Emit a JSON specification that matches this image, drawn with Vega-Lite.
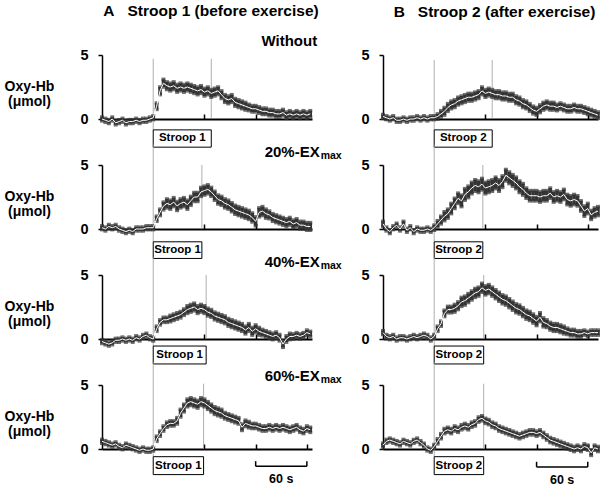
{
"$schema": "https://vega.github.io/schema/vega-lite/v6.json",
"background": "white",
"padding": {"left": 4, "top": 4, "right": 0, "bottom": 0},
"bounds": "flush",
"columns": 2,
"spacing": {"row": 46, "column": 71},
"datasets": {
"A1": [{"t":-60,"m":0.0,"e":0.15},{"t":-56,"m":-0.1,"e":0.15},{"t":-52,"m":-0.2,"e":0.15},{"t":-48,"m":0.0,"e":0.15},{"t":-44,"m":-0.3,"e":0.15},{"t":-40,"m":-0.2,"e":0.15},{"t":-36,"m":-0.1,"e":0.15},{"t":-32,"m":-0.3,"e":0.15},{"t":-28,"m":-0.2,"e":0.15},{"t":-24,"m":-0.2,"e":0.15},{"t":-20,"m":-0.1,"e":0.15},{"t":-16,"m":-0.2,"e":0.15},{"t":-12,"m":-0.1,"e":0.15},{"t":-8,"m":-0.1,"e":0.15},{"t":-4,"m":0.0,"e":0.15},{"t":0,"m":0.1,"e":0.15},{"t":4,"m":1.0,"e":0.25},{"t":8,"m":2.2,"e":0.3},{"t":12,"m":2.8,"e":0.3},{"t":16,"m":2.6,"e":0.3},{"t":20,"m":2.5,"e":0.3},{"t":24,"m":2.6,"e":0.3},{"t":28,"m":2.4,"e":0.3},{"t":32,"m":2.5,"e":0.3},{"t":36,"m":2.4,"e":0.3},{"t":40,"m":2.5,"e":0.3},{"t":44,"m":2.4,"e":0.3},{"t":48,"m":2.3,"e":0.3},{"t":52,"m":2.2,"e":0.3},{"t":56,"m":2.3,"e":0.3},{"t":60,"m":2.1,"e":0.3},{"t":64,"m":2.2,"e":0.3},{"t":68,"m":2.0,"e":0.3},{"t":72,"m":2.1,"e":0.3},{"t":76,"m":2.2,"e":0.3},{"t":80,"m":1.9,"e":0.3},{"t":84,"m":1.6,"e":0.3},{"t":88,"m":1.5,"e":0.3},{"t":92,"m":1.6,"e":0.3},{"t":96,"m":1.3,"e":0.3},{"t":100,"m":1.2,"e":0.3},{"t":104,"m":1.1,"e":0.3},{"t":108,"m":1.0,"e":0.3},{"t":112,"m":0.9,"e":0.25},{"t":116,"m":0.8,"e":0.25},{"t":120,"m":0.8,"e":0.25},{"t":124,"m":0.7,"e":0.25},{"t":128,"m":0.6,"e":0.25},{"t":132,"m":0.6,"e":0.25},{"t":136,"m":0.5,"e":0.25},{"t":140,"m":0.5,"e":0.25},{"t":144,"m":0.4,"e":0.25},{"t":148,"m":0.4,"e":0.25},{"t":152,"m":0.5,"e":0.25},{"t":156,"m":0.3,"e":0.25},{"t":160,"m":0.4,"e":0.25},{"t":164,"m":0.3,"e":0.25},{"t":168,"m":0.4,"e":0.25},{"t":172,"m":0.3,"e":0.25},{"t":176,"m":0.4,"e":0.25},{"t":180,"m":0.3,"e":0.25},{"t":184,"m":0.4,"e":0.25}],
"B1": [{"t":-60,"m":0.2,"e":0.15},{"t":-56,"m":0.1,"e":0.15},{"t":-52,"m":0.0,"e":0.15},{"t":-48,"m":0.1,"e":0.15},{"t":-44,"m":-0.1,"e":0.15},{"t":-40,"m":-0.1,"e":0.15},{"t":-36,"m":0.0,"e":0.15},{"t":-32,"m":-0.1,"e":0.15},{"t":-28,"m":0.0,"e":0.15},{"t":-24,"m":0.0,"e":0.15},{"t":-20,"m":0.1,"e":0.15},{"t":-16,"m":0.0,"e":0.15},{"t":-12,"m":0.1,"e":0.15},{"t":-8,"m":0.0,"e":0.15},{"t":-4,"m":0.1,"e":0.15},{"t":0,"m":0.1,"e":0.15},{"t":4,"m":0.2,"e":0.2},{"t":8,"m":0.4,"e":0.25},{"t":12,"m":0.6,"e":0.3},{"t":16,"m":0.9,"e":0.3},{"t":20,"m":1.1,"e":0.3},{"t":24,"m":1.2,"e":0.3},{"t":28,"m":1.4,"e":0.3},{"t":32,"m":1.5,"e":0.3},{"t":36,"m":1.6,"e":0.3},{"t":40,"m":1.7,"e":0.3},{"t":44,"m":1.7,"e":0.3},{"t":48,"m":1.8,"e":0.3},{"t":52,"m":1.9,"e":0.3},{"t":56,"m":2.2,"e":0.3},{"t":60,"m":2.0,"e":0.3},{"t":64,"m":2.1,"e":0.3},{"t":68,"m":2.0,"e":0.3},{"t":72,"m":1.9,"e":0.3},{"t":76,"m":1.9,"e":0.3},{"t":80,"m":1.8,"e":0.3},{"t":84,"m":1.8,"e":0.3},{"t":88,"m":1.7,"e":0.3},{"t":92,"m":1.7,"e":0.3},{"t":96,"m":1.5,"e":0.3},{"t":100,"m":1.4,"e":0.3},{"t":104,"m":1.2,"e":0.3},{"t":108,"m":1.1,"e":0.3},{"t":112,"m":0.9,"e":0.3},{"t":116,"m":0.7,"e":0.3},{"t":120,"m":0.6,"e":0.3},{"t":124,"m":0.8,"e":0.3},{"t":128,"m":1.0,"e":0.3},{"t":132,"m":1.1,"e":0.3},{"t":136,"m":1.0,"e":0.3},{"t":140,"m":1.0,"e":0.3},{"t":144,"m":0.9,"e":0.25},{"t":148,"m":1.0,"e":0.25},{"t":152,"m":0.9,"e":0.25},{"t":156,"m":0.8,"e":0.25},{"t":160,"m":0.8,"e":0.25},{"t":164,"m":0.9,"e":0.25},{"t":168,"m":0.8,"e":0.25},{"t":172,"m":0.8,"e":0.25},{"t":176,"m":0.7,"e":0.25},{"t":180,"m":0.6,"e":0.25},{"t":184,"m":0.5,"e":0.25},{"t":188,"m":0.4,"e":0.25},{"t":192,"m":0.3,"e":0.25}],
"A2": [{"t":-60,"m":0.1,"e":0.15},{"t":-56,"m":0.0,"e":0.15},{"t":-52,"m":0.2,"e":0.15},{"t":-48,"m":0.1,"e":0.15},{"t":-44,"m":0.2,"e":0.15},{"t":-40,"m":0.0,"e":0.15},{"t":-36,"m":-0.1,"e":0.15},{"t":-32,"m":-0.2,"e":0.15},{"t":-28,"m":-0.1,"e":0.15},{"t":-24,"m":-0.2,"e":0.15},{"t":-20,"m":0.0,"e":0.15},{"t":-16,"m":0.0,"e":0.15},{"t":-12,"m":0.0,"e":0.15},{"t":-8,"m":0.1,"e":0.15},{"t":-4,"m":0.1,"e":0.15},{"t":0,"m":0.1,"e":0.15},{"t":4,"m":0.8,"e":0.2},{"t":8,"m":1.3,"e":0.25},{"t":12,"m":1.8,"e":0.3},{"t":16,"m":2.0,"e":0.35},{"t":20,"m":1.9,"e":0.35},{"t":24,"m":2.1,"e":0.35},{"t":28,"m":1.8,"e":0.35},{"t":32,"m":2.0,"e":0.35},{"t":36,"m":2.1,"e":0.35},{"t":40,"m":1.9,"e":0.35},{"t":44,"m":2.2,"e":0.35},{"t":48,"m":2.5,"e":0.35},{"t":52,"m":2.5,"e":0.35},{"t":56,"m":2.9,"e":0.35},{"t":60,"m":3.0,"e":0.35},{"t":64,"m":3.1,"e":0.35},{"t":68,"m":2.9,"e":0.35},{"t":72,"m":2.6,"e":0.35},{"t":76,"m":2.3,"e":0.35},{"t":80,"m":2.2,"e":0.35},{"t":84,"m":2.0,"e":0.35},{"t":88,"m":1.9,"e":0.35},{"t":92,"m":1.7,"e":0.35},{"t":96,"m":1.5,"e":0.35},{"t":100,"m":1.4,"e":0.35},{"t":104,"m":1.3,"e":0.35},{"t":108,"m":1.2,"e":0.35},{"t":112,"m":1.1,"e":0.35},{"t":116,"m":0.9,"e":0.35},{"t":120,"m":0.6,"e":0.35},{"t":124,"m":1.3,"e":0.35},{"t":128,"m":1.4,"e":0.35},{"t":132,"m":1.2,"e":0.35},{"t":136,"m":1.1,"e":0.3},{"t":140,"m":0.9,"e":0.3},{"t":144,"m":0.8,"e":0.3},{"t":148,"m":0.7,"e":0.3},{"t":152,"m":0.6,"e":0.3},{"t":156,"m":0.5,"e":0.3},{"t":160,"m":0.6,"e":0.3},{"t":164,"m":0.4,"e":0.3},{"t":168,"m":0.5,"e":0.3},{"t":172,"m":0.3,"e":0.3},{"t":176,"m":0.3,"e":0.3},{"t":180,"m":0.2,"e":0.3},{"t":184,"m":0.2,"e":0.3}],
"B2": [{"t":-60,"m":0.4,"e":0.2},{"t":-56,"m":0.0,"e":0.15},{"t":-52,"m":-0.2,"e":0.15},{"t":-48,"m":0.1,"e":0.15},{"t":-44,"m":0.3,"e":0.15},{"t":-40,"m":0.0,"e":0.15},{"t":-36,"m":0.4,"e":0.2},{"t":-32,"m":-0.1,"e":0.15},{"t":-28,"m":0.1,"e":0.15},{"t":-24,"m":-0.2,"e":0.15},{"t":-20,"m":0.0,"e":0.15},{"t":-16,"m":-0.1,"e":0.15},{"t":-12,"m":-0.1,"e":0.15},{"t":-8,"m":0.0,"e":0.15},{"t":-4,"m":-0.1,"e":0.15},{"t":0,"m":0.1,"e":0.2},{"t":4,"m":0.4,"e":0.25},{"t":8,"m":0.7,"e":0.3},{"t":12,"m":1.0,"e":0.35},{"t":16,"m":1.2,"e":0.35},{"t":20,"m":1.6,"e":0.4},{"t":24,"m":2.0,"e":0.4},{"t":28,"m":2.4,"e":0.4},{"t":32,"m":2.2,"e":0.45},{"t":36,"m":2.7,"e":0.45},{"t":40,"m":2.9,"e":0.45},{"t":44,"m":3.2,"e":0.45},{"t":48,"m":3.4,"e":0.45},{"t":52,"m":3.3,"e":0.45},{"t":56,"m":3.5,"e":0.45},{"t":60,"m":3.2,"e":0.45},{"t":64,"m":3.3,"e":0.45},{"t":68,"m":3.4,"e":0.45},{"t":72,"m":3.6,"e":0.45},{"t":76,"m":3.4,"e":0.45},{"t":80,"m":3.7,"e":0.45},{"t":84,"m":4.2,"e":0.45},{"t":88,"m":4.0,"e":0.45},{"t":92,"m":3.8,"e":0.45},{"t":96,"m":3.6,"e":0.45},{"t":100,"m":3.3,"e":0.45},{"t":104,"m":3.1,"e":0.45},{"t":108,"m":2.8,"e":0.4},{"t":112,"m":2.6,"e":0.4},{"t":116,"m":2.6,"e":0.4},{"t":120,"m":2.6,"e":0.4},{"t":124,"m":2.5,"e":0.4},{"t":128,"m":2.6,"e":0.4},{"t":132,"m":2.6,"e":0.4},{"t":136,"m":2.8,"e":0.4},{"t":140,"m":2.5,"e":0.4},{"t":144,"m":2.6,"e":0.4},{"t":148,"m":2.5,"e":0.4},{"t":152,"m":2.7,"e":0.4},{"t":156,"m":2.3,"e":0.4},{"t":160,"m":2.2,"e":0.4},{"t":164,"m":2.3,"e":0.4},{"t":168,"m":2.2,"e":0.4},{"t":172,"m":1.8,"e":0.4},{"t":176,"m":1.4,"e":0.4},{"t":180,"m":1.6,"e":0.4},{"t":184,"m":1.1,"e":0.35},{"t":188,"m":1.3,"e":0.35},{"t":192,"m":1.4,"e":0.35}],
"A3": [{"t":-60,"m":-0.2,"e":0.15},{"t":-56,"m":-0.3,"e":0.15},{"t":-52,"m":-0.4,"e":0.15},{"t":-48,"m":-0.3,"e":0.15},{"t":-44,"m":-0.1,"e":0.15},{"t":-40,"m":-0.1,"e":0.15},{"t":-36,"m":0.0,"e":0.15},{"t":-32,"m":-0.1,"e":0.15},{"t":-28,"m":0.0,"e":0.15},{"t":-24,"m":-0.1,"e":0.15},{"t":-20,"m":0.1,"e":0.15},{"t":-16,"m":0.0,"e":0.15},{"t":-12,"m":0.2,"e":0.15},{"t":-8,"m":0.3,"e":0.15},{"t":-4,"m":0.1,"e":0.15},{"t":0,"m":0.0,"e":0.15},{"t":4,"m":0.8,"e":0.2},{"t":8,"m":1.3,"e":0.2},{"t":12,"m":1.5,"e":0.2},{"t":16,"m":1.5,"e":0.2},{"t":20,"m":1.6,"e":0.25},{"t":24,"m":1.7,"e":0.25},{"t":28,"m":1.8,"e":0.25},{"t":32,"m":1.9,"e":0.25},{"t":36,"m":2.1,"e":0.25},{"t":40,"m":2.3,"e":0.3},{"t":44,"m":2.4,"e":0.3},{"t":48,"m":2.5,"e":0.3},{"t":52,"m":2.3,"e":0.3},{"t":56,"m":2.4,"e":0.3},{"t":60,"m":2.3,"e":0.3},{"t":64,"m":2.1,"e":0.3},{"t":68,"m":2.0,"e":0.3},{"t":72,"m":1.8,"e":0.3},{"t":76,"m":1.7,"e":0.3},{"t":80,"m":1.6,"e":0.3},{"t":84,"m":1.5,"e":0.3},{"t":88,"m":1.3,"e":0.3},{"t":92,"m":1.2,"e":0.3},{"t":96,"m":1.1,"e":0.3},{"t":100,"m":1.0,"e":0.3},{"t":104,"m":0.9,"e":0.3},{"t":108,"m":0.7,"e":0.3},{"t":112,"m":0.9,"e":0.3},{"t":116,"m":0.6,"e":0.3},{"t":120,"m":0.8,"e":0.3},{"t":124,"m":0.6,"e":0.3},{"t":128,"m":0.5,"e":0.25},{"t":132,"m":0.4,"e":0.25},{"t":136,"m":0.3,"e":0.25},{"t":140,"m":0.2,"e":0.25},{"t":144,"m":0.3,"e":0.25},{"t":148,"m":0.1,"e":0.25},{"t":152,"m":-0.4,"e":0.25},{"t":156,"m":0.0,"e":0.25},{"t":160,"m":0.2,"e":0.25},{"t":164,"m":0.2,"e":0.2},{"t":168,"m":0.3,"e":0.2},{"t":172,"m":0.2,"e":0.2},{"t":176,"m":0.3,"e":0.2},{"t":180,"m":0.5,"e":0.2},{"t":184,"m":0.4,"e":0.2}],
"B3": [{"t":-60,"m":0.5,"e":0.15},{"t":-56,"m":0.2,"e":0.15},{"t":-52,"m":0.1,"e":0.15},{"t":-48,"m":0.2,"e":0.15},{"t":-44,"m":0.0,"e":0.15},{"t":-40,"m":0.1,"e":0.15},{"t":-36,"m":0.1,"e":0.15},{"t":-32,"m":0.0,"e":0.15},{"t":-28,"m":0.1,"e":0.15},{"t":-24,"m":0.2,"e":0.15},{"t":-20,"m":0.1,"e":0.15},{"t":-16,"m":0.2,"e":0.15},{"t":-12,"m":0.3,"e":0.15},{"t":-8,"m":0.2,"e":0.15},{"t":-4,"m":0.0,"e":0.15},{"t":0,"m":0.2,"e":0.15},{"t":4,"m":0.8,"e":0.2},{"t":8,"m":1.2,"e":0.2},{"t":12,"m":2.0,"e":0.25},{"t":16,"m":2.3,"e":0.25},{"t":20,"m":2.3,"e":0.25},{"t":24,"m":2.4,"e":0.3},{"t":28,"m":2.6,"e":0.3},{"t":32,"m":2.9,"e":0.35},{"t":36,"m":3.0,"e":0.35},{"t":40,"m":3.2,"e":0.35},{"t":44,"m":3.4,"e":0.35},{"t":48,"m":3.6,"e":0.35},{"t":52,"m":3.7,"e":0.35},{"t":56,"m":4.0,"e":0.35},{"t":60,"m":3.8,"e":0.35},{"t":64,"m":3.9,"e":0.35},{"t":68,"m":3.7,"e":0.35},{"t":72,"m":3.5,"e":0.35},{"t":76,"m":3.3,"e":0.35},{"t":80,"m":3.1,"e":0.35},{"t":84,"m":3.0,"e":0.35},{"t":88,"m":2.8,"e":0.35},{"t":92,"m":2.6,"e":0.35},{"t":96,"m":2.4,"e":0.35},{"t":100,"m":2.3,"e":0.35},{"t":104,"m":2.1,"e":0.35},{"t":108,"m":1.9,"e":0.35},{"t":112,"m":1.8,"e":0.35},{"t":116,"m":1.6,"e":0.35},{"t":120,"m":1.4,"e":0.35},{"t":124,"m":1.7,"e":0.35},{"t":128,"m":1.3,"e":0.35},{"t":132,"m":1.2,"e":0.3},{"t":136,"m":1.0,"e":0.3},{"t":140,"m":0.9,"e":0.3},{"t":144,"m":0.9,"e":0.3},{"t":148,"m":0.8,"e":0.3},{"t":152,"m":0.7,"e":0.3},{"t":156,"m":0.6,"e":0.25},{"t":160,"m":0.5,"e":0.25},{"t":164,"m":0.5,"e":0.25},{"t":168,"m":0.4,"e":0.25},{"t":172,"m":0.4,"e":0.25},{"t":176,"m":0.5,"e":0.2},{"t":180,"m":0.4,"e":0.2},{"t":184,"m":0.5,"e":0.2},{"t":188,"m":0.5,"e":0.2},{"t":192,"m":0.5,"e":0.2}],
"A4": [{"t":-60,"m":0.6,"e":0.15},{"t":-56,"m":0.5,"e":0.15},{"t":-52,"m":0.4,"e":0.15},{"t":-48,"m":0.3,"e":0.15},{"t":-44,"m":0.4,"e":0.15},{"t":-40,"m":0.2,"e":0.15},{"t":-36,"m":0.1,"e":0.15},{"t":-32,"m":0.3,"e":0.15},{"t":-28,"m":0.2,"e":0.15},{"t":-24,"m":0.1,"e":0.15},{"t":-20,"m":0.0,"e":0.15},{"t":-16,"m":-0.1,"e":0.15},{"t":-12,"m":0.0,"e":0.15},{"t":-8,"m":-0.1,"e":0.15},{"t":-4,"m":-0.1,"e":0.15},{"t":0,"m":0.0,"e":0.15},{"t":4,"m":0.8,"e":0.2},{"t":8,"m":1.2,"e":0.2},{"t":12,"m":1.6,"e":0.2},{"t":16,"m":1.9,"e":0.2},{"t":20,"m":2.0,"e":0.2},{"t":24,"m":2.0,"e":0.2},{"t":28,"m":2.2,"e":0.25},{"t":32,"m":2.8,"e":0.3},{"t":36,"m":3.2,"e":0.3},{"t":40,"m":3.6,"e":0.3},{"t":44,"m":3.7,"e":0.3},{"t":48,"m":3.6,"e":0.3},{"t":52,"m":3.5,"e":0.3},{"t":56,"m":3.7,"e":0.3},{"t":60,"m":3.6,"e":0.3},{"t":64,"m":3.4,"e":0.3},{"t":68,"m":3.2,"e":0.3},{"t":72,"m":3.0,"e":0.3},{"t":76,"m":2.9,"e":0.3},{"t":80,"m":2.8,"e":0.3},{"t":84,"m":2.6,"e":0.25},{"t":88,"m":2.5,"e":0.25},{"t":92,"m":2.4,"e":0.25},{"t":96,"m":2.3,"e":0.25},{"t":100,"m":2.2,"e":0.25},{"t":104,"m":1.7,"e":0.25},{"t":108,"m":2.0,"e":0.25},{"t":112,"m":1.9,"e":0.25},{"t":116,"m":1.8,"e":0.2},{"t":120,"m":1.8,"e":0.2},{"t":124,"m":1.7,"e":0.2},{"t":128,"m":1.6,"e":0.2},{"t":132,"m":1.6,"e":0.2},{"t":136,"m":1.7,"e":0.2},{"t":140,"m":1.6,"e":0.2},{"t":144,"m":1.7,"e":0.2},{"t":148,"m":1.6,"e":0.2},{"t":152,"m":1.7,"e":0.2},{"t":156,"m":1.6,"e":0.2},{"t":160,"m":1.5,"e":0.2},{"t":164,"m":1.6,"e":0.2},{"t":168,"m":1.7,"e":0.2},{"t":172,"m":1.5,"e":0.2},{"t":176,"m":1.4,"e":0.2},{"t":180,"m":1.6,"e":0.2},{"t":184,"m":1.5,"e":0.2}],
"B4": [{"t":-60,"m":0.3,"e":0.15},{"t":-56,"m":0.6,"e":0.15},{"t":-52,"m":0.7,"e":0.15},{"t":-48,"m":0.6,"e":0.15},{"t":-44,"m":0.5,"e":0.15},{"t":-40,"m":0.4,"e":0.15},{"t":-36,"m":0.6,"e":0.15},{"t":-32,"m":0.5,"e":0.15},{"t":-28,"m":0.4,"e":0.15},{"t":-24,"m":0.6,"e":0.15},{"t":-20,"m":0.7,"e":0.15},{"t":-16,"m":0.5,"e":0.15},{"t":-12,"m":0.3,"e":0.15},{"t":-8,"m":0.0,"e":0.15},{"t":-4,"m":-0.1,"e":0.15},{"t":0,"m":0.2,"e":0.15},{"t":4,"m":0.6,"e":0.2},{"t":8,"m":1.0,"e":0.2},{"t":12,"m":1.4,"e":0.2},{"t":16,"m":1.5,"e":0.2},{"t":20,"m":1.4,"e":0.2},{"t":24,"m":1.6,"e":0.2},{"t":28,"m":1.5,"e":0.2},{"t":32,"m":1.7,"e":0.2},{"t":36,"m":1.8,"e":0.2},{"t":40,"m":1.7,"e":0.2},{"t":44,"m":1.9,"e":0.2},{"t":48,"m":2.0,"e":0.2},{"t":52,"m":2.3,"e":0.2},{"t":56,"m":2.4,"e":0.2},{"t":60,"m":2.2,"e":0.2},{"t":64,"m":2.1,"e":0.2},{"t":68,"m":1.9,"e":0.2},{"t":72,"m":1.8,"e":0.2},{"t":76,"m":1.6,"e":0.2},{"t":80,"m":1.5,"e":0.2},{"t":84,"m":1.4,"e":0.2},{"t":88,"m":1.3,"e":0.2},{"t":92,"m":1.2,"e":0.2},{"t":96,"m":1.1,"e":0.2},{"t":100,"m":1.0,"e":0.2},{"t":104,"m":1.1,"e":0.2},{"t":108,"m":1.2,"e":0.2},{"t":112,"m":1.3,"e":0.2},{"t":116,"m":1.3,"e":0.2},{"t":120,"m":1.2,"e":0.2},{"t":124,"m":1.3,"e":0.2},{"t":128,"m":1.1,"e":0.2},{"t":132,"m":0.9,"e":0.2},{"t":136,"m":0.7,"e":0.2},{"t":140,"m":0.6,"e":0.2},{"t":144,"m":0.5,"e":0.2},{"t":148,"m":0.4,"e":0.2},{"t":152,"m":0.3,"e":0.2},{"t":156,"m":0.2,"e":0.2},{"t":160,"m":0.1,"e":0.2},{"t":164,"m":0.0,"e":0.2},{"t":168,"m":0.1,"e":0.2},{"t":172,"m":0.0,"e":0.2},{"t":176,"m":0.2,"e":0.2},{"t":180,"m":0.1,"e":0.2},{"t":184,"m":-0.3,"e":0.2},{"t":188,"m":0.1,"e":0.2},{"t":192,"m":0.0,"e":0.2}]
},
"concat": [
{"width": 210, "height": 64,
 "title": {"text": "A\u00a0\u00a0\u00a0Stroop 1 (before exercise)", "dx": 4, "offset": 14},
 "layer": [
  {"data": {"values": [{}]}, "mark": {"type": "rule", "color": "#999999", "strokeWidth": 0.8}, "encoding": {"x": {"datum": 0}, "y": {"datum": 4.7}, "y2": {"datum": -0.85}}},
  {"data": {"values": [{}]}, "mark": {"type": "rule", "color": "#999999", "strokeWidth": 0.8}, "encoding": {"x": {"datum": 68}, "y": {"datum": 4.7}, "y2": {"datum": 0}}},
  {"data": {"name": "A1"}, "mark": {"type": "errorbar", "color": "#333333", "thickness": 3.5, "size": 4, "ticks": true}, "encoding": {"x": {"field": "t", "type": "quantitative"}, "y": {"field": "m", "type": "quantitative", "title": ["Oxy-Hb", "(μmol)"]}, "yError": {"field": "e"}}},
  {"data": {"name": "A1"}, "mark": {"type": "line", "color": "white", "strokeWidth": 1}, "encoding": {"x": {"field": "t", "type": "quantitative", "scale": {"domain": [-60, 186], "nice": false, "zero": false}, "axis": {"values": [60, 120, 180], "labels": false, "title": null}}, "y": {"field": "m", "type": "quantitative", "scale": {"domain": [0, 5], "nice": false, "zero": false}, "axis": {"values": [0, 2.5, 5], "format": "~g", "title": ["Oxy-Hb", "(μmol)"]}}}},
  {"data": {"values": [{}]}, "mark": {"type": "rect", "fill": "white", "stroke": "black", "strokeWidth": 1}, "encoding": {"x": {"datum": 0}, "x2": {"datum": 68}, "y": {"datum": -0.85}, "y2": {"datum": -2.2}}},
  {"data": {"values": [{}]}, "mark": {"type": "text", "text": "Stroop 1", "fontSize": 11.5}, "encoding": {"x": {"datum": 34}, "y": {"datum": -1.52}}},
  {"data": {"values": [{}]}, "mark": {"type": "text", "text": "Without", "fontSize": 15, "align": "right"}, "encoding": {"x": {"datum": 192}, "y": {"datum": 6.1}}}
 ]},
{"width": 215, "height": 64,
 "title": {"text": "B\u00a0\u00a0\u00a0Stroop 2 (after exercise)", "dx": 4, "offset": 27},
 "layer": [
  {"data": {"values": [{}]}, "mark": {"type": "rule", "color": "#999999", "strokeWidth": 0.8}, "encoding": {"x": {"datum": 0}, "y": {"datum": 4.6}, "y2": {"datum": -0.85}}},
  {"data": {"values": [{}]}, "mark": {"type": "rule", "color": "#999999", "strokeWidth": 0.8}, "encoding": {"x": {"datum": 68}, "y": {"datum": 4.6}, "y2": {"datum": 0}}},
  {"data": {"name": "B1"}, "mark": {"type": "errorbar", "color": "#333333", "thickness": 3.5, "size": 4, "ticks": true}, "encoding": {"x": {"field": "t", "type": "quantitative"}, "y": {"field": "m", "type": "quantitative", "title": null}, "yError": {"field": "e"}}},
  {"data": {"name": "B1"}, "mark": {"type": "line", "color": "white", "strokeWidth": 1}, "encoding": {"x": {"field": "t", "type": "quantitative", "scale": {"domain": [-60, 192], "nice": false, "zero": false}, "axis": {"values": [60, 120, 180], "labels": false, "title": null}}, "y": {"field": "m", "type": "quantitative", "scale": {"domain": [0, 5], "nice": false, "zero": false}, "axis": {"values": [0, 2.5, 5], "format": "~g", "title": null}}}},
  {"data": {"values": [{}]}, "mark": {"type": "rect", "fill": "white", "stroke": "black", "strokeWidth": 1}, "encoding": {"x": {"datum": 0}, "x2": {"datum": 68}, "y": {"datum": -0.85}, "y2": {"datum": -2.2}}},
  {"data": {"values": [{}]}, "mark": {"type": "text", "text": "Stroop 2", "fontSize": 11.5}, "encoding": {"x": {"datum": 34}, "y": {"datum": -1.52}}}
 ]},
{"width": 210, "height": 64,
 "layer": [
  {"data": {"values": [{}]}, "mark": {"type": "rule", "color": "#999999", "strokeWidth": 0.8}, "encoding": {"x": {"datum": 0}, "y": {"datum": 6.6}, "y2": {"datum": -1.0}}},
  {"data": {"values": [{}]}, "mark": {"type": "rule", "color": "#999999", "strokeWidth": 0.8}, "encoding": {"x": {"datum": 57}, "y": {"datum": 5}, "y2": {"datum": 0}}},
  {"data": {"name": "A2"}, "mark": {"type": "errorbar", "color": "#333333", "thickness": 3.5, "size": 4, "ticks": true}, "encoding": {"x": {"field": "t", "type": "quantitative"}, "y": {"field": "m", "type": "quantitative", "title": ["Oxy-Hb", "(μmol)"]}, "yError": {"field": "e"}}},
  {"data": {"name": "A2"}, "mark": {"type": "line", "color": "white", "strokeWidth": 1}, "encoding": {"x": {"field": "t", "type": "quantitative", "scale": {"domain": [-60, 186], "nice": false, "zero": false}, "axis": {"values": [60, 120, 180], "labels": false, "title": null}}, "y": {"field": "m", "type": "quantitative", "scale": {"domain": [0, 5], "nice": false, "zero": false}, "axis": {"values": [0, 2.5, 5], "format": "~g", "title": ["Oxy-Hb", "(μmol)"]}}}},
  {"data": {"values": [{}]}, "mark": {"type": "rect", "fill": "white", "stroke": "black", "strokeWidth": 1}, "encoding": {"x": {"datum": 0}, "x2": {"datum": 57}, "y": {"datum": -1.0}, "y2": {"datum": -2.3}}},
  {"data": {"values": [{}]}, "mark": {"type": "text", "text": "Stroop 1", "fontSize": 11.5}, "encoding": {"x": {"datum": 28.5}, "y": {"datum": -1.65}}},
  {"data": {"values": [{}]}, "mark": {"type": "text", "text": "20%-EX", "fontSize": 15, "align": "right"}, "encoding": {"x": {"datum": 195}, "y": {"datum": 6.0}}},
  {"data": {"values": [{}]}, "mark": {"type": "text", "text": "max", "fontSize": 10.5, "align": "left", "dx": 1, "dy": 4}, "encoding": {"x": {"datum": 195}, "y": {"datum": 6.0}}}
 ]},
{"width": 215, "height": 64,
 "layer": [
  {"data": {"values": [{}]}, "mark": {"type": "rule", "color": "#999999", "strokeWidth": 0.8}, "encoding": {"x": {"datum": 0}, "y": {"datum": 6.6}, "y2": {"datum": -1.0}}},
  {"data": {"values": [{}]}, "mark": {"type": "rule", "color": "#999999", "strokeWidth": 0.8}, "encoding": {"x": {"datum": 57}, "y": {"datum": 5}, "y2": {"datum": 0}}},
  {"data": {"name": "B2"}, "mark": {"type": "errorbar", "color": "#333333", "thickness": 3.5, "size": 4, "ticks": true}, "encoding": {"x": {"field": "t", "type": "quantitative"}, "y": {"field": "m", "type": "quantitative", "title": null}, "yError": {"field": "e"}}},
  {"data": {"name": "B2"}, "mark": {"type": "line", "color": "white", "strokeWidth": 1}, "encoding": {"x": {"field": "t", "type": "quantitative", "scale": {"domain": [-60, 192], "nice": false, "zero": false}, "axis": {"values": [60, 120, 180], "labels": false, "title": null}}, "y": {"field": "m", "type": "quantitative", "scale": {"domain": [0, 5], "nice": false, "zero": false}, "axis": {"values": [0, 2.5, 5], "format": "~g", "title": null}}}},
  {"data": {"values": [{}]}, "mark": {"type": "rect", "fill": "white", "stroke": "black", "strokeWidth": 1}, "encoding": {"x": {"datum": 0}, "x2": {"datum": 57}, "y": {"datum": -1.0}, "y2": {"datum": -2.3}}},
  {"data": {"values": [{}]}, "mark": {"type": "text", "text": "Stroop 2", "fontSize": 11.5}, "encoding": {"x": {"datum": 28.5}, "y": {"datum": -1.65}}}
 ]},
{"width": 210, "height": 64,
 "layer": [
  {"data": {"values": [{}]}, "mark": {"type": "rule", "color": "#999999", "strokeWidth": 0.8}, "encoding": {"x": {"datum": 0}, "y": {"datum": 6.4}, "y2": {"datum": -0.55}}},
  {"data": {"values": [{}]}, "mark": {"type": "rule", "color": "#999999", "strokeWidth": 0.8}, "encoding": {"x": {"datum": 62}, "y": {"datum": 5}, "y2": {"datum": 0}}},
  {"data": {"name": "A3"}, "mark": {"type": "errorbar", "color": "#333333", "thickness": 3.5, "size": 4, "ticks": true}, "encoding": {"x": {"field": "t", "type": "quantitative"}, "y": {"field": "m", "type": "quantitative", "title": ["Oxy-Hb", "(μmol)"]}, "yError": {"field": "e"}}},
  {"data": {"name": "A3"}, "mark": {"type": "line", "color": "white", "strokeWidth": 1}, "encoding": {"x": {"field": "t", "type": "quantitative", "scale": {"domain": [-60, 186], "nice": false, "zero": false}, "axis": {"values": [60, 120, 180], "labels": false, "title": null}}, "y": {"field": "m", "type": "quantitative", "scale": {"domain": [0, 5], "nice": false, "zero": false}, "axis": {"values": [0, 2.5, 5], "format": "~g", "title": ["Oxy-Hb", "(μmol)"]}}}},
  {"data": {"values": [{}]}, "mark": {"type": "rect", "fill": "white", "stroke": "black", "strokeWidth": 1}, "encoding": {"x": {"datum": 0}, "x2": {"datum": 62}, "y": {"datum": -0.55}, "y2": {"datum": -1.95}}},
  {"data": {"values": [{}]}, "mark": {"type": "text", "text": "Stroop 1", "fontSize": 11.5}, "encoding": {"x": {"datum": 31}, "y": {"datum": -1.25}}},
  {"data": {"values": [{}]}, "mark": {"type": "text", "text": "40%-EX", "fontSize": 15, "align": "right"}, "encoding": {"x": {"datum": 195}, "y": {"datum": 6.0}}},
  {"data": {"values": [{}]}, "mark": {"type": "text", "text": "max", "fontSize": 10.5, "align": "left", "dx": 1, "dy": 4}, "encoding": {"x": {"datum": 195}, "y": {"datum": 6.0}}}
 ]},
{"width": 215, "height": 64,
 "layer": [
  {"data": {"values": [{}]}, "mark": {"type": "rule", "color": "#999999", "strokeWidth": 0.8}, "encoding": {"x": {"datum": 0}, "y": {"datum": 6.4}, "y2": {"datum": -0.55}}},
  {"data": {"values": [{}]}, "mark": {"type": "rule", "color": "#999999", "strokeWidth": 0.8}, "encoding": {"x": {"datum": 58}, "y": {"datum": 5}, "y2": {"datum": 0}}},
  {"data": {"name": "B3"}, "mark": {"type": "errorbar", "color": "#333333", "thickness": 3.5, "size": 4, "ticks": true}, "encoding": {"x": {"field": "t", "type": "quantitative"}, "y": {"field": "m", "type": "quantitative", "title": null}, "yError": {"field": "e"}}},
  {"data": {"name": "B3"}, "mark": {"type": "line", "color": "white", "strokeWidth": 1}, "encoding": {"x": {"field": "t", "type": "quantitative", "scale": {"domain": [-60, 192], "nice": false, "zero": false}, "axis": {"values": [60, 120, 180], "labels": false, "title": null}}, "y": {"field": "m", "type": "quantitative", "scale": {"domain": [0, 5], "nice": false, "zero": false}, "axis": {"values": [0, 2.5, 5], "format": "~g", "title": null}}}},
  {"data": {"values": [{}]}, "mark": {"type": "rect", "fill": "white", "stroke": "black", "strokeWidth": 1}, "encoding": {"x": {"datum": 0}, "x2": {"datum": 58}, "y": {"datum": -0.55}, "y2": {"datum": -1.95}}},
  {"data": {"values": [{}]}, "mark": {"type": "text", "text": "Stroop 2", "fontSize": 11.5}, "encoding": {"x": {"datum": 29}, "y": {"datum": -1.25}}}
 ]},
{"width": 210, "height": 64,
 "layer": [
  {"data": {"values": [{}]}, "mark": {"type": "rule", "color": "#999999", "strokeWidth": 0.8}, "encoding": {"x": {"datum": 0}, "y": {"datum": 6.8}, "y2": {"datum": -0.6}}},
  {"data": {"values": [{}]}, "mark": {"type": "rule", "color": "#999999", "strokeWidth": 0.8}, "encoding": {"x": {"datum": 59}, "y": {"datum": 5.1}, "y2": {"datum": 0}}},
  {"data": {"name": "A4"}, "mark": {"type": "errorbar", "color": "#333333", "thickness": 3.5, "size": 4, "ticks": true}, "encoding": {"x": {"field": "t", "type": "quantitative"}, "y": {"field": "m", "type": "quantitative", "title": ["Oxy-Hb", "(μmol)"]}, "yError": {"field": "e"}}},
  {"data": {"name": "A4"}, "mark": {"type": "line", "color": "white", "strokeWidth": 1}, "encoding": {"x": {"field": "t", "type": "quantitative", "scale": {"domain": [-60, 186], "nice": false, "zero": false}, "axis": {"values": [60, 120, 180], "labels": false, "title": null}}, "y": {"field": "m", "type": "quantitative", "scale": {"domain": [0, 5], "nice": false, "zero": false}, "axis": {"values": [0, 2.5, 5], "format": "~g", "title": ["Oxy-Hb", "(μmol)"]}}}},
  {"data": {"values": [{}]}, "mark": {"type": "rect", "fill": "white", "stroke": "black", "strokeWidth": 1}, "encoding": {"x": {"datum": 0}, "x2": {"datum": 59}, "y": {"datum": -0.6}, "y2": {"datum": -2.0}}},
  {"data": {"values": [{}]}, "mark": {"type": "text", "text": "Stroop 1", "fontSize": 11.5}, "encoding": {"x": {"datum": 29.5}, "y": {"datum": -1.3}}},
  {"data": {"values": [{}]}, "mark": {"type": "text", "text": "60%-EX", "fontSize": 15, "align": "right"}, "encoding": {"x": {"datum": 195}, "y": {"datum": 5.7}}},
  {"data": {"values": [{}]}, "mark": {"type": "text", "text": "max", "fontSize": 10.5, "align": "left", "dx": 1, "dy": 4}, "encoding": {"x": {"datum": 195}, "y": {"datum": 5.7}}},
  {"data": {"values": [{}]}, "mark": {"type": "rule", "color": "black", "strokeWidth": 1.5}, "encoding": {"x": {"datum": 120}, "x2": {"datum": 180}, "y": {"datum": -1.35}}},
  {"data": {"values": [{}]}, "mark": {"type": "rule", "color": "black", "strokeWidth": 1.5}, "encoding": {"x": {"datum": 120}, "y": {"datum": -1.35}, "y2": {"datum": -0.95}}},
  {"data": {"values": [{}]}, "mark": {"type": "rule", "color": "black", "strokeWidth": 1.5}, "encoding": {"x": {"datum": 180}, "y": {"datum": -1.35}, "y2": {"datum": -0.95}}},
  {"data": {"values": [{}]}, "mark": {"type": "text", "text": "60 s", "fontSize": 12.5}, "encoding": {"x": {"datum": 150}, "y": {"datum": -2.35}}}
 ]},
{"width": 215, "height": 64,
 "layer": [
  {"data": {"values": [{}]}, "mark": {"type": "rule", "color": "#999999", "strokeWidth": 0.8}, "encoding": {"x": {"datum": 0}, "y": {"datum": 6.8}, "y2": {"datum": -0.6}}},
  {"data": {"values": [{}]}, "mark": {"type": "rule", "color": "#999999", "strokeWidth": 0.8}, "encoding": {"x": {"datum": 58}, "y": {"datum": 5.1}, "y2": {"datum": 0}}},
  {"data": {"name": "B4"}, "mark": {"type": "errorbar", "color": "#333333", "thickness": 3.5, "size": 4, "ticks": true}, "encoding": {"x": {"field": "t", "type": "quantitative"}, "y": {"field": "m", "type": "quantitative", "title": null}, "yError": {"field": "e"}}},
  {"data": {"name": "B4"}, "mark": {"type": "line", "color": "white", "strokeWidth": 1}, "encoding": {"x": {"field": "t", "type": "quantitative", "scale": {"domain": [-60, 192], "nice": false, "zero": false}, "axis": {"values": [60, 120, 180], "labels": false, "title": null}}, "y": {"field": "m", "type": "quantitative", "scale": {"domain": [0, 5], "nice": false, "zero": false}, "axis": {"values": [0, 2.5, 5], "format": "~g", "title": null}}}},
  {"data": {"values": [{}]}, "mark": {"type": "rect", "fill": "white", "stroke": "black", "strokeWidth": 1}, "encoding": {"x": {"datum": 0}, "x2": {"datum": 58}, "y": {"datum": -0.6}, "y2": {"datum": -2.0}}},
  {"data": {"values": [{}]}, "mark": {"type": "text", "text": "Stroop 2", "fontSize": 11.5}, "encoding": {"x": {"datum": 29}, "y": {"datum": -1.3}}},
  {"data": {"values": [{}]}, "mark": {"type": "rule", "color": "black", "strokeWidth": 1.5}, "encoding": {"x": {"datum": 120}, "x2": {"datum": 180}, "y": {"datum": -1.4}}},
  {"data": {"values": [{}]}, "mark": {"type": "rule", "color": "black", "strokeWidth": 1.5}, "encoding": {"x": {"datum": 120}, "y": {"datum": -1.4}, "y2": {"datum": -1.0}}},
  {"data": {"values": [{}]}, "mark": {"type": "rule", "color": "black", "strokeWidth": 1.5}, "encoding": {"x": {"datum": 180}, "y": {"datum": -1.4}, "y2": {"datum": -1.0}}},
  {"data": {"values": [{}]}, "mark": {"type": "text", "text": "60 s", "fontSize": 12.5}, "encoding": {"x": {"datum": 150}, "y": {"datum": -2.4}}}
 ]}
],
"config": {
 "view": {"stroke": null},
 "font": "Liberation Sans",
 "text": {"font": "Liberation Sans", "fontWeight": "bold", "color": "black", "baseline": "middle"},
 "title": {"font": "Liberation Sans", "fontSize": 15.5, "fontWeight": "bold", "color": "black", "anchor": "middle"},
 "axis": {"grid": false, "domainColor": "black", "tickColor": "black", "labelColor": "black", "titleColor": "black", "labelFont": "Liberation Sans", "titleFont": "Liberation Sans"},
 "axisX": {"tickSize": -5, "tickWidth": 1.5, "domainWidth": 2},
 "axisY": {"tickSize": 4, "tickWidth": 1.5, "domainWidth": 1.5, "labelPadding": 10, "labelFontSize": 14.5, "labelFontWeight": "bold", "titleAngle": 0, "titleAlign": "center", "titleBaseline": "middle", "titleX": -73, "titleY": 31, "titleFontSize": 14, "titleFontWeight": "bold", "titleLineHeight": 15}
}
}
